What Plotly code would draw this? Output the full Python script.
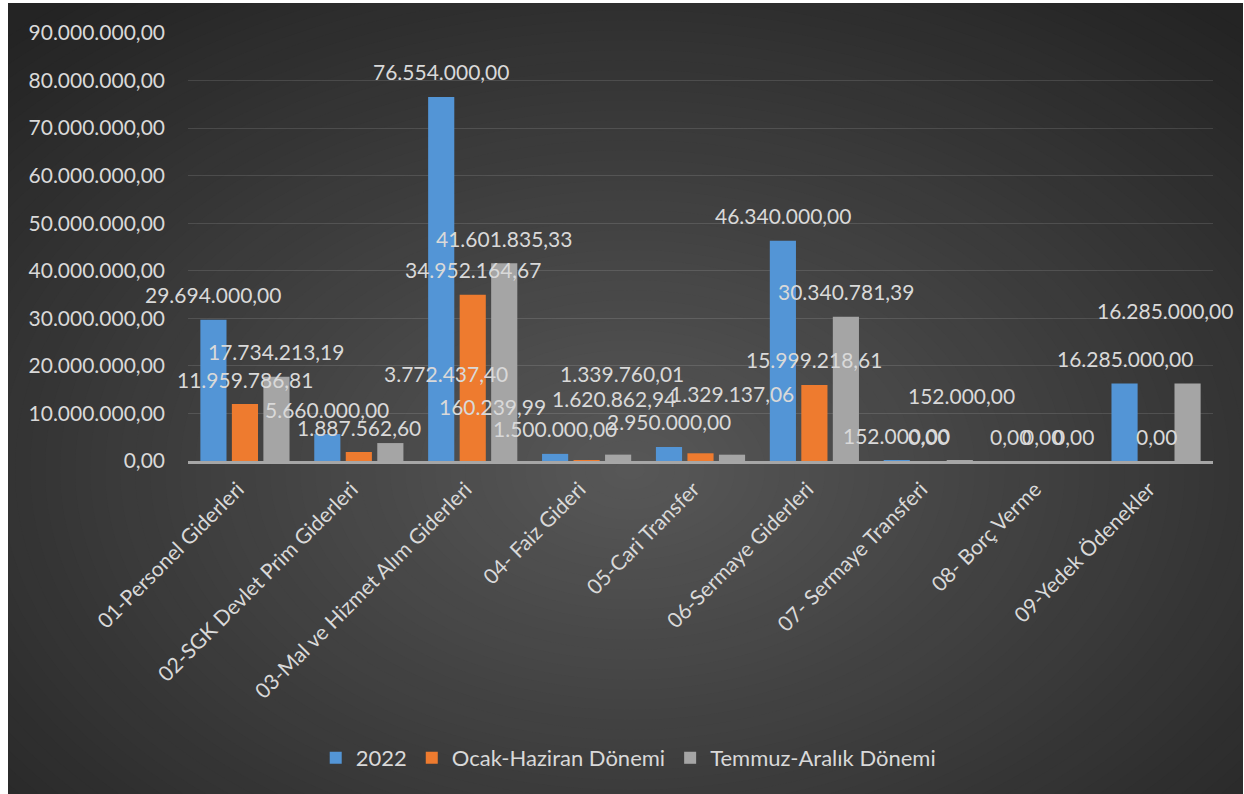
import plotly.graph_objects as go

categories = [
    "01-Personel Giderleri",
    "02-SGK Devlet Prim Giderleri",
    "03-Mal ve Hizmet Alım Giderleri",
    "04- Faiz Gideri",
    "05-Cari Transfer",
    "06-Sermaye Giderleri",
    "07- Sermaye Transferi",
    "08- Borç Verme",
    "09-Yedek Ödenekler",
]
values_2022 = [29694000.00, 5660000.00, 76554000.00, 1500000.00, 2950000.00,
               46340000.00, 152000.00, 0.00, 16285000.00]
values_ocak = [11959786.81, 1887562.60, 34952164.67, 160239.99, 1620862.94,
               15999218.61, 0.00, 0.00, 0.00]
values_temmuz = [17734213.19, 3772437.40, 41601835.33, 1339760.01, 1329137.06,
                 30340781.39, 152000.00, 0.00, 16285000.00]
series_names = ["2022", "Ocak-Haziran Dönemi", "Temmuz-Aralık Dönemi"]
tick_values = [0, 10e6, 20e6, 30e6, 40e6, 50e6, 60e6, 70e6, 80e6, 90e6]

# styling
colors = ["#5395d6", "#ee7b2f", "#a5a5a5"]
text_color = "#d9d9d9"
FONT = "Lato"
W, H = 1244, 794
ML, MR, MT, MB = 188, 31, 33, 333
series_xshift = [-31.5, 0.0, 31.5]
# manual label nudges (pixels) per series, per category: (dx, dy up)
label_dx = [
    [0, 0, 0, 0, 0, 0, 0, 0, 0],
    [0, 0, 0, -94, -87, 0, 0, 0, 0],
    [0, 56, 0, 4, 0, 0, 2, 0, -23],
]
label_dy = [
    [0, 0, 0, 0, 0, 0, 0, 0, 0],
    [0, 0, 0, 29, 30, 0, 0, 0, 0],
    [0, 45, 0, 56, 36, 0, 40, 0, 48],
]


def tr(v):
    s = f"{v:,.2f}"
    return s.replace(",", "X").replace(".", ",").replace("X", ".")


fig = go.Figure()
all_series = [values_2022, values_ocak, values_temmuz]
for name, vals, col in zip(series_names, all_series, colors):
    fig.add_trace(go.Bar(
        x=categories, y=vals, name=name,
        marker=dict(color=col, line=dict(width=0)),
    ))

annotations = []
for si, vals in enumerate(all_series):
    for ci, (cat, v) in enumerate(zip(categories, vals)):
        annotations.append(dict(
            x=cat, y=v, xref="x", yref="y", text=tr(v), showarrow=False,
            xanchor="center", yanchor="middle",
            xshift=series_xshift[si] + label_dx[si][ci],
            yshift=25 + label_dy[si][ci],
            font=dict(family=FONT, size=21, color=text_color),
        ))

# radial gradient background via concentric ellipses (paper coords)
pw = W - ML - MR
ph = H - MT - MB


def px2x(px):
    return (px - ML) / pw


def py2y(py):
    return (H - MB - py) / ph


shapes = []
cx, cy = 630, 470
Rx, Ry = 900, 600
center_rgb = (0x58, 0x58, 0x58)
edge_rgb = (0x24, 0x24, 0x24)
N = 60
shapes.append(dict(type="rect", xref="paper", yref="paper",
                   x0=px2x(0), x1=px2x(W), y0=py2y(H), y1=py2y(0),
                   fillcolor="rgb(36,36,36)", line=dict(width=0), layer="below"))
for i in range(N):
    k = 1 - i / N
    c = tuple(int(round(center_rgb[j] + (edge_rgb[j] - center_rgb[j]) * k)) for j in range(3))
    shapes.append(dict(type="circle", xref="paper", yref="paper",
                       x0=px2x(cx - Rx * k), x1=px2x(cx + Rx * k),
                       y0=py2y(cy + Ry * k), y1=py2y(cy - Ry * k),
                       fillcolor=f"rgb{c}", line=dict(width=0), layer="below"))
# thin white frame at top, left and right
for (a, b, c_, d) in [(0, 8, 0, H), (0, W, 0, 3), (W - 1, W, 0, H)]:
    shapes.append(dict(type="rect", xref="paper", yref="paper",
                       x0=px2x(a), x1=px2x(b), y0=py2y(d), y1=py2y(c_),
                       fillcolor="white", line=dict(width=0), layer="below"))

fig.update_layout(
    width=W, height=H,
    margin=dict(l=ML, r=MR, t=MT, b=MB, autoexpand=False),
    paper_bgcolor="#242424",
    plot_bgcolor="rgba(0,0,0,0)",
    barmode="group", bargap=0.17, bargroupgap=0.17,
    font=dict(family=FONT, color=text_color),
    shapes=shapes,
    annotations=annotations,
    showlegend=True,
    legend=dict(
        orientation="h", xref="container", yref="container",
        x=0.505, xanchor="center", y=1 - 758 / H, yanchor="middle",
        font=dict(family=FONT, size=22, color=text_color),
        itemwidth=30, bgcolor="rgba(0,0,0,0)",
    ),
    xaxis=dict(
        range=[-0.5, len(categories) - 0.5], autorange=False,
        tickangle=-45, tickfont=dict(family=FONT, size=21, color=text_color),
        showline=True, linecolor="#a6a6a6", linewidth=2.5,
        showgrid=False, ticks="", ticklabelstandoff=5, ticklabelshift=-7,
    ),
    yaxis=dict(
        range=[0, 90e6], autorange=False,
        tickvals=tick_values, ticktext=[tr(v) for v in tick_values],
        tickfont=dict(family=FONT, size=21, color=text_color),
        showgrid=True, gridcolor="rgba(255,255,255,0.12)", gridwidth=1.3,
        zeroline=False, showline=False, ticks="", ticklabelstandoff=22,
    ),
)

fig.write_html("out.html", post_script="document.body.style.margin='0';",
               config={"displayModeBar": False})
